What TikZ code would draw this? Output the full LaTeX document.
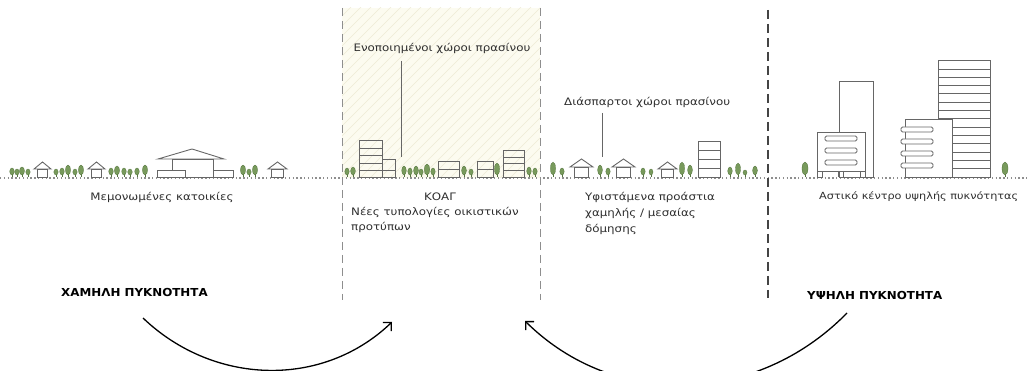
\documentclass[tikz,border=0pt]{standalone}
\usepackage{fontspec}
\setmainfont{DejaVu Sans}[FakeStretch=1.15]
\newfontfamily\headfont{DejaVu Sans}[FakeStretch=1.08]
\usetikzlibrary{arrows.meta}

\definecolor{ink}{HTML}{2E2E2E}
\definecolor{bldg}{HTML}{666666}
\definecolor{leaf}{RGB}{120,154,92}
\definecolor{leafdark}{RGB}{84,116,62}
\definecolor{cream}{HTML}{FCFBF0}
\definecolor{hatchc}{HTML}{EEEAD4}
\definecolor{dashgray}{HTML}{8E8E8E}
\definecolor{dashdark}{HTML}{444444}

\tikzset{
  bline/.style={draw=bldg, line width=0.9pt},
  bfill/.style={bline, fill=white},
  label/.style={inner sep=0pt, text=ink, font=\fontsize{10.3}{12}\selectfont},
  headlabel/.style={inner sep=0pt, text=black, font=\headfont\bfseries\fontsize{11}{13}\selectfont},
  leader/.style={draw=bldg, line width=0.9pt},
  zonesep/.style={draw=dashgray, line width=1pt, dash pattern=on 8pt off 5pt},
  zonesepdark/.style={draw=dashdark, line width=1.4pt, dash pattern=on 9pt off 5pt},
  groundline/.style={draw=dashgray, line width=1.2pt, dash pattern=on 1.4pt off 2.4pt},
  bigarrow/.style={draw=black, line width=1.3pt, -{Straight Barb[length=6pt,width=12pt,line width=1.3pt]}},
}

% tree: x position, half width, crown height
\newcommand\gtree[3]{%
  \draw[leafdark, line width=0.6pt] (#1,177) -- (#1,{176-#3/2});
  \fill[leaf, draw=leafdark, line width=0.3pt] (#1,{175-#3/2}) ellipse [x radius=#2, y radius={#3/2}];
}
% pitched-roof house: left, right, roof peak, eave height
\newcommand\hut[4]{%
  \draw[bline] (#1,#4) -- ({(#1+#2)/2},#3) -- (#2,#4) -- cycle;
  \draw[bline] ({#1+(#2-#1)*0.2},#4) rectangle ({#2-(#2-#1)*0.2},177);
}

\begin{document}
\begin{tikzpicture}[x=1pt, y=-1pt]
\useasboundingbox (0,0) rectangle (1028,371);

% hatched middle zone
\fill[cream] (342,8) rectangle (540,178);
\begin{scope}
  \clip (342,8) rectangle (540,178);
  \foreach \i in {150,160,...,560}
    \draw[hatchc, line width=0.7pt] (\i,178) -- ++(200,-200);
\end{scope}

% ground
\coordinate (g0) at (0,178);
\coordinate (g1) at (1028,178);
\draw[groundline] (g0) -- (g1);

% zone separators
\coordinate (s1a) at (342,8);  \coordinate (s1b) at (342,300);
\coordinate (s2a) at (540,8);  \coordinate (s2b) at (540,300);
\coordinate (s3a) at (768,10); \coordinate (s3b) at (768,298);
\draw[zonesep] (s1a) -- (s1b);
\draw[zonesep] (s2a) -- (s2b);
\draw[zonesepdark] (s3a) -- (s3b);

% ---- detached houses ----
\foreach \x/\w/\h in {12/2.3/7, 17/2.3/6, 22/2.5/8, 28/2.2/6}
  {\gtree{\x}{\w}{\h}}
\hut{34}{51}{162}{169}
\foreach \x/\w/\h in {56/2.2/6, 62/2.3/7, 68/2.6/10, 75/2.2/6, 81/2.6/10}
  {\gtree{\x}{\w}{\h}}
\hut{88}{105}{162}{169}
\foreach \x/\w/\h in {111/2.3/7, 117/2.6/9, 124/2.3/7, 130/2.3/6, 137/2.3/7, 145/2.6/10}
  {\gtree{\x}{\w}{\h}}
% large villa
\draw[bline] (158,159) -- (192,149) -- (224,159) -- cycle;
\draw[bline] (172,159) rectangle (213,177);
\draw[bfill] (157,170) rectangle (185,177);
\draw[bfill] (213,170) rectangle (233,177);
\foreach \x/\w/\h in {243/2.6/10, 249/2.2/6, 255/2.6/10}
  {\gtree{\x}{\w}{\h}}
\hut{268}{287}{162}{169}

% ---- new housing typologies ----
\foreach \x/\w/\h in {347/2.2/7, 353/2.4/8}
  {\gtree{\x}{\w}{\h}}
\draw[bline] (359,140) rectangle (382,177);
\foreach \y in {148,155,163,170} \draw[bline] (359,\y) -- (382,\y);
\draw[bline] (382,159) rectangle (395,177);
\draw[bline] (382,170) -- (395,170);
\foreach \x/\w/\h in {404/2.3/9, 410/2.2/7, 416/2.4/9, 421/2.2/6, 427/2.8/11, 433/2.2/7}
  {\gtree{\x}{\w}{\h}}
\draw[bline] (438,161) rectangle (459,177);
\draw[bline] (438,169) -- (459,169);
\foreach \x/\w/\h in {464/2.4/9, 471/2.2/6}
  {\gtree{\x}{\w}{\h}}
\draw[bline] (477,161) rectangle (493,177);
\draw[bline] (477,169) -- (493,169);
\gtree{497}{2.6}{12}
\draw[bline] (503,150) rectangle (524,177);
\foreach \y in {157,163,170} \draw[bline] (503,\y) -- (524,\y);
\foreach \x/\w/\h in {529/2.3/8, 535/2.2/7}
  {\gtree{\x}{\w}{\h}}

% ---- existing suburbs ----
\foreach \x/\w/\h in {553/2.6/13, 562/2.2/7}
  {\gtree{\x}{\w}{\h}}
\hut{570}{593}{159}{167}
\foreach \x/\w/\h in {600/2.4/10, 608/2.2/7}
  {\gtree{\x}{\w}{\h}}
\hut{612}{635}{159}{167}
\foreach \x/\w/\h in {643/2.2/7, 651/2.0/6}
  {\gtree{\x}{\w}{\h}}
\hut{658}{677}{162}{169}
\foreach \x/\w/\h in {682/2.6/13, 690/2.4/10}
  {\gtree{\x}{\w}{\h}}
\draw[bline] (698,141) rectangle (720,177);
\foreach \y in {150,159,168} \draw[bline] (698,\y) -- (720,\y);
\foreach \x/\w/\h in {730/2.3/8, 738/2.5/12, 745/2.0/5, 755/2.4/9}
  {\gtree{\x}{\w}{\h}}

% ---- high density centre ----
\gtree{805}{3}{13}
\gtree{1005}{3}{13}
\draw[bline] (839,81) rectangle (873,177);
\draw[bfill] (817,132) rectangle (865,171);
\draw[bline] (817,171) rectangle (822,177);
\draw[bline] (838,171) -- (838,177);
\draw[bline] (843,171) -- (843,177);
\draw[bline] (860,171) rectangle (865,177);
\foreach \y in {136,148,160}
  \draw[bline, rounded corners=1.5pt] (825,\y) rectangle (857,\y+5);
\draw[bline] (938,60) rectangle (990,177);
\foreach \k in {0,...,12} \draw[bline] (938,{69+8.3*\k}) -- (990,{69+8.3*\k});
\draw[bfill] (905,119) rectangle (952,177);
\foreach \y in {127,139,151,163}
  \draw[bline, fill=white, rounded corners=1.5pt] (901,\y) rectangle (933,\y+5);

% ---- labels ----
\node[label, anchor=base] (unified) at (442,52) {Ενοποιημένοι χώροι πρασίνου};
\coordinate (ua) at (401,61); \coordinate (ub) at (401,157);
\draw[leader] (ua) -- (ub);
\node[label, anchor=base west] (scattered) at (564,106) {Διάσπαρτοι χώροι πρασίνου};
\coordinate (sa) at (602,113); \coordinate (sb) at (602,157);
\draw[leader] (sa) -- (sb);

\node[label, anchor=base] (detached) at (162,201) {Μεμονωμένες κατοικίες};
\node[label, anchor=base] (koag) at (440,201) {ΚΟΑΓ};
\node[label, anchor=base west] (newtyp) at (351,216) {Νέες τυπολογίες οικιστικών};
\node[label, anchor=base west] (newtyp2) at (351,231) {προτύπων};
\node[label, anchor=base west] (suburb) at (585,201) {Υφιστάμενα προάστια};
\node[label, anchor=base west] (suburb2) at (585,217) {χαμηλής / μεσαίας};
\node[label, anchor=base west] (suburb3) at (585,233) {δόμησης};
\node[label, anchor=base west, font=\fontsize{9.8}{12}\selectfont] (centre) at (819,200) {Αστικό κέντρο υψηλής πυκνότητας};

\node[headlabel, anchor=base west] (low) at (61,297) {ΧΑΜΗΛΗ ΠΥΚΝΟΤΗΤΑ};
\node[headlabel, anchor=base west] (high) at (807,300) {ΥΨΗΛΗ ΠΥΚΝΟΤΗΤΑ};

% ---- arrows towards the middle zone ----
\coordinate (lowfrom) at (143,318);
\coordinate (lowto) at (392,322);
\draw[bigarrow] (lowfrom) .. controls (213,385) and (322,389) .. (lowto);
\coordinate (highfrom) at (847,313);
\coordinate (highto) at (525,321);
\draw[bigarrow] (highfrom) .. controls (757,405) and (615,410) .. (highto);
\end{tikzpicture}
\end{document}
